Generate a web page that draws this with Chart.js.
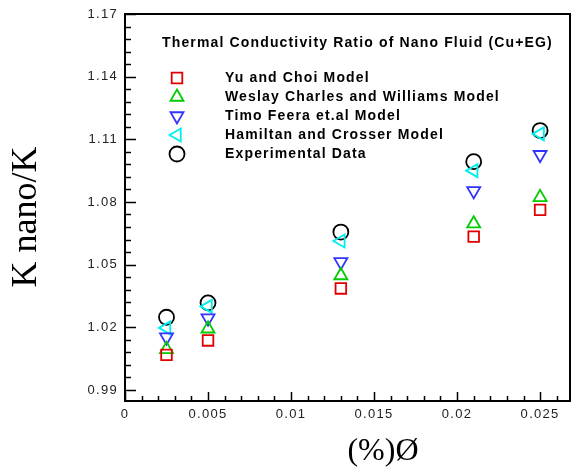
<!DOCTYPE html>
<html>
<head>
<meta charset="utf-8">
<title>Thermal Conductivity Ratio (Cu+EG)</title>
<script src="https://cdn.jsdelivr.net/npm/chart.js@4.4.1/dist/chart.umd.min.js"></script>
<style>
  html, body { margin: 0; padding: 0; background: #fff; }
  #wrap { width: 573px; height: 468px; }
</style>
</head>
<body>
<div id="wrap"><canvas id="kratio" width="573" height="468"></canvas></div>
<script>
/* volume fraction and conductivity ratios per model */
const phi = [0.0025, 0.005, 0.013, 0.021, 0.025];
const yuChoi = [1.0068, 1.0137, 1.0386, 1.0634, 1.0762];
const weslayCharles = [1.0094, 1.0193, 1.0448, 1.0696, 1.0822];
const timoFeera = [1.0153, 1.0244, 1.0513, 1.0853, 1.1026];
const hamiltonCrosser = [1.0197, 1.0300, 1.0613, 1.0950, 1.1126];
const experimental = [1.0248, 1.0317, 1.0656, 1.0993, 1.1142];

const seriesNames = [
  "Yu and Choi Model",
  "Weslay Charles and Williams Model",
  "Timo Feera et.al Model",
  "Hamiltan and Crosser Model",
  "Experimental Data",
];
const legendTitle = "Thermal Conductivity Ratio of Nano Fluid (Cu+EG)";
const xTitle = "(%)Ø";
const yTitle = "K nano/K";

const xTicks = [0, 0.005, 0.01, 0.015, 0.02, 0.025];
const yTicks = [0.99, 1.02, 1.05, 1.08, 1.11, 1.14, 1.17];
const xMinorStep = 0.001;
const yMinorStep = 0.006;

const TICK_FONT = { family: "'Liberation Sans', Arial, sans-serif", size: 13 };
const SERIF = "'Liberation Serif', 'Times New Roman', serif";

const STYLES = [
  { color: "#e00000", pointStyle: "rect", rotation: 0, radius: 7.5 },
  { color: "#00cc00", pointStyle: "triangle", rotation: 0, radius: 7.5 },
  { color: "#3333ff", pointStyle: "triangle", rotation: 180, radius: 7.5 },
  { color: "#00eeee", pointStyle: "triangle", rotation: -90, radius: 7.5 },
  { color: "#000000", pointStyle: "circle", rotation: 0, radius: 7.5 },
];

const seriesValues = [yuChoi, weslayCharles, timoFeera, hamiltonCrosser, experimental];

const datasets = seriesValues.map((vals, i) => ({
  label: seriesNames[i],
  data: vals.map((v, j) => ({ x: phi[j], y: v })),
  showLine: false,
  pointStyle: STYLES[i].pointStyle,
  rotation: STYLES[i].rotation,
  pointRadius: STYLES[i].radius,
  pointHoverRadius: STYLES[i].radius,
  borderColor: STYLES[i].color,
  backgroundColor: "rgba(0,0,0,0)",
  borderWidth: 1.8,
}));

/* wider glyph spacing for the tick labels, reset after drawing */
const spacedText = {
  id: "spacedText",
  beforeDraw(chart) { chart.ctx.letterSpacing = "1.3px"; },
  afterDatasetsDraw(chart) { chart.ctx.letterSpacing = "0px"; },
};

/* boxed frame with inward major/minor ticks */
const frameTicks = {
  id: "frameTicks",
  beforeDatasetsDraw(chart) {
    const { ctx, chartArea: a, scales: { x, y } } = chart;
    ctx.save();
    ctx.strokeStyle = "#000";
    ctx.lineWidth = 2;
    ctx.strokeRect(a.left, a.top, a.right - a.left, a.bottom - a.top);

    ctx.beginPath();
    ctx.lineWidth = 1.5;
    for (let k = 0; x.min + k * xMinorStep <= x.max + 1e-9; k++) {
      const v = x.min + k * xMinorStep;
      const major = xTicks.some(t => Math.abs(t - v) < 1e-9);
      const px = Math.round(x.getPixelForValue(v)) + 0.5;
      ctx.moveTo(px, a.bottom);
      ctx.lineTo(px, a.bottom - (major ? 9 : 5));
    }
    for (let k = 0; yTicks[0] + k * yMinorStep <= y.max + 1e-9; k++) {
      const v = yTicks[0] + k * yMinorStep;
      const major = yTicks.some(t => Math.abs(t - v) < 1e-9);
      const py = Math.round(y.getPixelForValue(v)) + 0.5;
      ctx.moveTo(a.left, py);
      ctx.lineTo(a.left + (major ? 11 : 6), py);
    }
    ctx.stroke();
    ctx.restore();
  },
};

/* axis titles and the titled legend block inside the plot */
const boxLegend = {
  id: "boxLegend",
  afterDraw(chart) {
    const { ctx } = chart;
    const helpers = Chart.helpers;
    ctx.save();
    ctx.letterSpacing = "0px";
    ctx.fillStyle = "#000";
    ctx.textBaseline = "middle";
    ctx.textAlign = "center";
    ctx.font = "32px " + SERIF;
    ctx.fillText(xTitle, 383, 452);
    ctx.save();
    ctx.translate(27, 217);
    ctx.rotate(-Math.PI / 2);
    ctx.font = "36px " + SERIF;
    ctx.fillText(yTitle, 0, 0);
    ctx.restore();

    ctx.textAlign = "left";
    ctx.font = "bold 14px 'Liberation Sans', Arial, sans-serif";
    ctx.letterSpacing = "1.15px";
    ctx.fillText(legendTitle, 162, 43);

    chart.data.datasets.forEach((ds, i) => {
      const yRow = 78 + i * 19;
      ctx.save();
      ctx.strokeStyle = ds.borderColor;
      ctx.fillStyle = "rgba(0,0,0,0)";
      ctx.lineWidth = ds.borderWidth;
      helpers.drawPoint(ctx, {
        pointStyle: ds.pointStyle,
        rotation: ds.rotation,
        radius: ds.pointRadius,
        borderWidth: ds.borderWidth,
      }, 177, yRow);
      ctx.restore();
      ctx.fillStyle = "#000";
      ctx.fillText(ds.label, 225, yRow);
    });
    ctx.restore();
  },
};

new Chart(document.getElementById("kratio"), {
  type: "scatter",
  data: { datasets },
  plugins: [spacedText, frameTicks, boxLegend],
  options: {
    responsive: false,
    animation: false,
    events: [],
    layout: { autoPadding: false, padding: { top: 14, right: 3, left: 0, bottom: 0 } },
    plugins: { legend: { display: false }, tooltip: { enabled: false } },
    scales: {
      x: {
        type: "linear",
        min: 0,
        max: 0.0268,
        afterBuildTicks: s => { s.ticks = xTicks.map(v => ({ value: v })); },
        afterFit: s => { s.height = 67; s.paddingLeft = 0; s.paddingRight = 0; },
        grid: { display: false, drawTicks: false },
        border: { display: false },
        ticks: {
          font: TICK_FONT,
          color: "#222",
          padding: 6,
          maxRotation: 0,
          autoSkip: false,
          callback: v => String(+v.toFixed(4)),
        },
      },
      y: {
        type: "linear",
        min: 0.9847,
        max: 1.17,
        afterBuildTicks: s => { s.ticks = yTicks.map(v => ({ value: v })); },
        afterFit: s => { s.width = 125; s.paddingTop = 0; s.paddingBottom = 0; },
        grid: { display: false, drawTicks: false },
        border: { display: false },
        ticks: {
          font: TICK_FONT,
          color: "#222",
          padding: 7,
          autoSkip: false,
          callback: v => v.toFixed(2),
        },
      },
    },
  },
});
</script>
</body>
</html>
